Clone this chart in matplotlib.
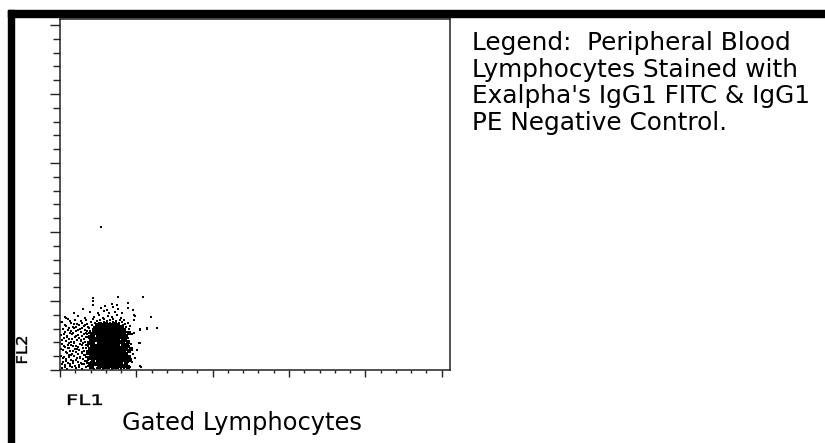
import numpy as np
import matplotlib
matplotlib.use("Agg")
import matplotlib.pyplot as plt
from matplotlib.patches import Rectangle, PathPatch
from matplotlib.textpath import TextPath
from matplotlib.font_manager import FontProperties
from matplotlib.transforms import Affine2D

# Gated lymphocyte events (FL1 / FL2 channel)
fl1 = [
    2, 7, 12, 16, 22, 26, 30, 34, 37, 40, 43, 46, 49, 52, 55, 58, 61, 64, 70, 80,
    5, 10, 15, 19, 24, 29, 33, 36, 39, 42, 45, 48, 51, 54, 57, 60, 63, 67,
    3, 8, 13, 18, 21, 27, 31, 35, 38, 41, 44, 47, 50, 53, 56, 59, 62, 65, 72,
    6, 11, 17, 23, 28, 32, 34, 37, 40, 43, 46, 49, 52, 55, 58, 61, 64, 68, 75,
    1, 4, 9, 14, 20, 25, 30, 33, 36, 39, 42, 45, 48, 51, 54, 57, 60, 63, 66, 70,
    7, 12, 16, 22, 27, 31, 35, 38, 41, 44, 47, 50, 53, 56, 59, 62, 65, 73,
    3, 10, 15, 19, 24, 29, 33, 36, 39, 42, 45, 48, 51, 54, 57, 60, 63, 67, 77,
    5, 9, 13, 18, 23, 28, 32, 35, 38, 41, 44, 47, 50, 53, 56, 59, 62, 65, 69,
    2, 8, 14, 20, 26, 30, 34, 37, 40, 43, 46, 49, 52, 55, 58, 61, 64, 71, 79,
    6, 11, 17, 21, 25, 31, 35, 38, 41, 44, 47, 50, 53, 56, 59, 62, 66,
    4, 9, 15, 19, 24, 28, 33, 36, 39, 42, 45, 48, 51, 54, 57, 60, 63, 68,
    1, 7, 12, 18, 22, 27, 31, 34, 37, 40, 43, 46, 49, 52, 55, 58, 61, 65, 72,
    5, 10, 16, 21, 26, 30, 35, 38, 41, 44, 47, 50, 53, 56, 59, 62, 67, 74,
    3, 8, 14, 20, 25, 29, 33, 37, 40, 43, 46, 49, 52, 55, 58, 61, 64, 69, 80, 87,
    6, 13, 19, 24, 28, 32, 36, 39, 42, 45, 48, 51, 54, 57, 60, 63, 66, 70,
    2, 11, 17, 22, 27, 31, 35, 38, 41, 44, 47, 50, 53, 56, 59, 62, 65, 68,
    8, 15, 21, 26, 33, 37, 40, 44, 47, 50, 53, 56, 60, 64,
    5, 18, 25, 34, 39, 43, 48, 52, 57, 61, 75,
]
fl2 = [
    2, 1, 3, 2, 1, 3, 2, 1, 2, 3, 1, 2, 3, 1, 2, 3, 1, 2, 3, 4,
    5, 6, 4, 5, 6, 4, 5, 5, 6, 4, 5, 6, 4, 5, 6, 4, 5, 6,
    8, 7, 9, 8, 7, 9, 8, 7, 8, 9, 7, 8, 9, 7, 8, 9, 7, 8, 8,
    11, 10, 12, 11, 10, 12, 11, 10, 11, 12, 10, 11, 12, 10, 11, 12, 10, 11, 12,
    14, 13, 15, 14, 13, 15, 14, 13, 14, 15, 13, 14, 15, 13, 14, 15, 13, 14, 15, 14,
    17, 16, 18, 17, 16, 18, 17, 16, 17, 18, 16, 17, 18, 16, 17, 18, 17, 16,
    20, 19, 21, 20, 19, 21, 20, 19, 20, 21, 19, 20, 21, 19, 20, 21, 19, 20, 20,
    23, 22, 24, 23, 22, 24, 23, 22, 23, 24, 22, 23, 24, 22, 23, 24, 22, 23, 24,
    26, 25, 27, 26, 25, 27, 26, 25, 26, 27, 25, 26, 27, 25, 26, 27, 25, 26, 27,
    29, 28, 30, 29, 28, 30, 29, 28, 29, 30, 28, 29, 30, 28, 29, 30, 29,
    32, 31, 33, 32, 31, 33, 32, 31, 32, 33, 31, 32, 33, 31, 32, 33, 31, 32,
    35, 34, 36, 35, 34, 36, 35, 34, 35, 36, 34, 35, 36, 34, 35, 36, 34, 35, 36,
    38, 37, 39, 38, 37, 39, 38, 37, 38, 39, 37, 38, 39, 37, 38, 39, 38, 37,
    41, 40, 42, 41, 40, 42, 41, 40, 41, 42, 40, 41, 42, 40, 41, 42, 40, 41, 41, 42,
    44, 43, 45, 44, 43, 45, 44, 43, 44, 45, 43, 44, 45, 43, 44, 45, 43, 44,
    48, 47, 46, 47, 46, 48, 47, 46, 47, 48, 46, 47, 48, 46, 47, 48, 46, 47,
    51, 50, 49, 50, 51, 49, 50, 51, 49, 50, 51, 49, 50, 50,
    53, 54, 52, 53, 55, 52, 54, 53, 55, 52, 54,
]

# the densest part of the cluster (events lying between the ones above)
core_fl1 = [
    39, 42, 45, 48, 51, 54, 57, 60,
    37, 40, 43, 46, 49, 52, 55, 58, 61,
    38, 42, 45, 48, 51, 54, 57, 60,
    36, 39, 44, 47, 50, 53, 56, 59, 62,
    38, 41, 44, 47, 50, 53, 56, 59,
    37, 40, 43, 46, 49, 52, 55, 58, 61,
    38, 41, 44, 47, 50, 53, 56, 59,
    36, 40, 43, 46, 49, 52, 55, 58, 63,
    39, 42, 45, 48, 51, 54, 57, 60,
    37, 40, 43, 46, 49, 52, 55, 58,
    38, 41, 44, 47, 50, 53, 56, 59,
    39, 42, 45, 48, 51, 54, 57, 60,
    40, 43, 46, 49, 52, 55, 58,
    41, 44, 47, 50, 53, 56,
    43, 46, 49, 52, 55,
]
core_fl2 = [
    3.5, 4, 3, 3.5, 4, 3, 3.5, 4,
    6.5, 7, 6, 6.5, 7, 6, 6.5, 7, 6,
    9.5, 10, 9, 9.5, 10, 9, 9.5, 10,
    12.5, 13, 12, 12.5, 13, 12, 12.5, 13, 12,
    15.5, 16, 15, 15.5, 16, 15, 15.5, 16,
    18.5, 19, 18, 18.5, 19, 18, 18.5, 19, 18,
    21.5, 22, 21, 21.5, 22, 21, 21.5, 22,
    24.5, 25, 24, 24.5, 25, 24, 24.5, 25, 24,
    27.5, 28, 27, 27.5, 28, 27, 27.5, 28,
    30.5, 31, 30, 30.5, 31, 30, 30.5, 31,
    33.5, 34, 33, 33.5, 34, 33, 33.5, 34,
    36.5, 37, 36, 36.5, 37, 36, 36.5, 37,
    39.5, 40, 39, 39.5, 40, 39, 39.5,
    42.5, 43, 42, 42.5, 43, 42,
    45.5, 46, 45, 45.5, 46,
]

# shoulders of the dense core (left and right flanks)
shoulder_fl1 = [
    32, 64, 68,
    30, 34, 66,
    33, 63, 67, 70,
    29, 32, 65, 69,
    31, 34, 62, 66,
    28, 33, 64, 69,
    30, 34, 62, 66, 71,
    32, 64, 67,
    29, 33, 63, 68,
    31, 34, 65,
    30, 33, 62, 66,
    32, 35, 64, 69,
    34, 37, 61, 64,
    35, 38, 59, 62,
    37, 40, 58,
]
shoulder_fl2 = [
    3.5, 4, 3,
    6.5, 6, 7,
    9.5, 10, 9, 10,
    12.5, 13, 12, 13,
    15.5, 16, 15, 16,
    18.5, 19, 18, 19,
    21.5, 22, 21, 22, 21,
    24.5, 25, 24,
    27.5, 28, 27, 28,
    30.5, 31, 30,
    33.5, 34, 33, 34,
    36.5, 37, 36, 37,
    39.5, 40, 39, 40,
    42.5, 43, 42, 43,
    45.5, 46, 45,
]

# low-FL1 tail on the left of the cluster
left_fl1 = [
    5, 10, 19, 28,
    2, 13, 22, 27,
    6, 16, 25,
    3, 9, 20, 26,
    11, 18, 24, 28,
    6, 13, 22, 27,
    1, 8, 17, 26,
    4, 11, 16, 22,
    9, 14, 23, 28,
    2, 12, 21,
    7, 16, 26,
    4, 13, 24, 29,
    11, 18, 27,
    9, 16, 22,
    5, 14, 25,
]
left_fl2 = [
    3.5, 4, 3, 4,
    6.5, 7, 6, 7,
    9.5, 10, 9,
    12.5, 13, 12, 13,
    15.5, 16, 15, 16,
    18.5, 19, 18, 19,
    21.5, 22, 21, 22,
    24.5, 25, 24, 25,
    27.5, 28, 27, 28,
    30.5, 31, 30,
    33.5, 34, 33,
    36.5, 37, 36, 37,
    39.5, 40, 39,
    42.5, 43, 42,
    45.5, 46, 45,
]

# sparse events around the cluster
sparse_fl1 = [14, 30, 38, 44, 49, 55, 62, 73, 23, 41, 47, 53, 58, 68, 33, 45, 52, 57,
              33, 33, 58, 83, 91, 97, 87, 80, 74, 74, 80, 81, 6, 10, 1, 41, 68]
sparse_fl2 = [57, 58, 57, 59, 57, 58, 57, 60, 61, 62, 60, 63, 61, 62, 65, 64, 66, 65,
              72, 69, 73, 73, 53, 42, 41, 40, 55, 50, 27, 3, 52, 49, 48, 143, 67]

legend_lines = ["Legend:  Peripheral Blood",
                "Lymphocytes Stained with",
                "Exalpha's IgG1 FITC & IgG1",
                "PE Negative Control."]

W, H = 825, 443
fig = plt.figure(figsize=(W / 100, H / 100), dpi=100)

# thick black frame (top and left)
fig.patches.append(Rectangle((8 / W, 0), 6 / W, 433 / H, transform=fig.transFigure,
                             color="black", zorder=5))
fig.patches.append(Rectangle((8 / W, 1 - 17 / H), (W - 8) / W, 7 / H,
                             transform=fig.transFigure, color="black", zorder=5))

ax = fig.add_axes([60 / W, 73 / H, 390 / W, 351 / H])
ax.scatter(fl1 + left_fl1 + sparse_fl1, fl2 + left_fl2 + sparse_fl2,
           s=4.2, marker="s", c="black", linewidths=0, antialiased=False)
ax.scatter(core_fl1 + shoulder_fl1, core_fl2 + shoulder_fl2,
           s=6.0, marker="s", c="black", linewidths=0, antialiased=False)

ax.set_xlim(0, 390)
ax.set_ylim(0, 351)
ax.set_xticks(np.arange(6) * 76.34)
ax.set_xticks(np.arange(0, 390, 76.34 / 5), minor=True)
ax.set_yticks(np.arange(6) * 69.0)
ax.set_yticks(np.arange(0, 351, 13.8), minor=True)
ax.set_xticklabels([])
ax.set_yticklabels([])
ax.tick_params(axis="y", which="major", direction="out", length=7.2, width=1.0, color="#222222")
ax.tick_params(axis="y", which="minor", direction="out", length=4.8, width=1.0, color="#222222")
ax.tick_params(axis="x", which="major", direction="out", length=5.0, width=1.0, color="#222222")
ax.tick_params(axis="x", which="minor", direction="out", length=2.5, width=1.0, color="#222222")
for sp in ax.spines.values():
    sp.set_linewidth(1.1)
    sp.set_color("#222222")


def wide_label(s, x, y, cap, width, rot=0):
    # the cytometer's channel labels use a wide bitmap font: stretch a text path
    tp = TextPath((0, 0), s, size=1, prop=FontProperties(family="DejaVu Sans"))
    ext = tp.get_extents()
    tr = Affine2D().translate(-ext.x0, -ext.y0).scale(width / ext.width, cap / ext.height)
    tr = tr.rotate_deg(rot).translate(x, H - y).scale(1 / 100)
    fig.patches.append(PathPatch(tp, transform=tr + fig.dpi_scale_trans,
                                 facecolor="black", edgecolor="black", lw=0.25))


wide_label("FL1", 68, 405, 10.5, 34)
wide_label("FL2", 27, 363, 11, 26, rot=90)

fig.text(122 / W, 1 - 430 / H, "Gated Lymphocytes", fontsize=17.4,
         family="DejaVu Sans", va="baseline")

for i, line in enumerate(legend_lines):
    fig.text(472 / W, 1 - (50 + 26.7 * i) / H, line, fontsize=17.8,
             family="DejaVu Sans", va="baseline")

fig.savefig("out.png", dpi=100)
